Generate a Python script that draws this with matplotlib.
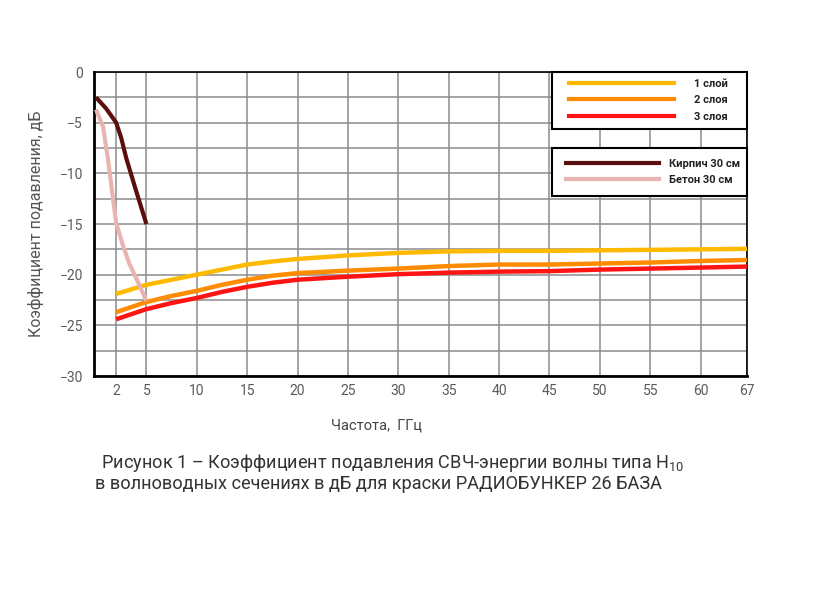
import numpy as np
import matplotlib.pyplot as plt
from matplotlib.lines import Line2D
from matplotlib.legend_handler import HandlerLine2D

plt.rcParams['font.family'] = ['Roboto', 'DejaVu Sans']
plt.rcParams['mathtext.fontset'] = 'custom'
plt.rcParams['mathtext.rm'] = 'Roboto'
plt.rcParams['mathtext.it'] = 'Roboto'

# частоты, ГГц
f_layers = [2, 5, 7.5, 10, 12.5, 15, 17.5, 20, 25, 30, 35, 40, 45, 50, 55, 60, 67]
layer1 = [-21.9, -21.0, -20.5, -20.0, -19.5, -19.0, -18.7, -18.45, -18.1, -17.85, -17.7, -17.65,
          -17.65, -17.6, -17.55, -17.5, -17.45]
layer2 = [-23.7, -22.7, -22.1, -21.6, -21.0, -20.5, -20.1, -19.85, -19.6, -19.4, -19.15, -19.0,
          -19.0, -18.9, -18.8, -18.65, -18.55]
layer3 = [-24.4, -23.4, -22.8, -22.3, -21.7, -21.2, -20.8, -20.5, -20.2, -19.95, -19.8, -19.7,
          -19.65, -19.5, -19.4, -19.3, -19.2]

f_brick = [0, 1, 2, 2.5, 3, 4, 5]
brick = [-2.5, -3.6, -5.0, -6.5, -8.5, -11.8, -15.0]

f_concrete = [0, 0.7, 1.2, 1.7, 2.0, 2.7, 3.3, 4.2, 5.0]
concrete = [-3.7, -5.4, -8.7, -12.6, -14.9, -17.2, -18.9, -20.8, -22.6]

xticks = [2, 5, 10, 15, 20, 25, 30, 35, 40, 45, 50, 55, 60, 67]

# на оригинале отрезок 60-67 сжат
def xpos(f):
    return np.interp(f, [0, 60, 67], [0, 60, 64.6])

fig = plt.figure(figsize=(8.2, 6), dpi=100)
ax = fig.add_axes([94/820, 1-376/600, (747-94)/820, (376-72)/600])

ax.plot(xpos(f_layers), layer1, color='#FFBA00', lw=3.2, solid_capstyle='butt', zorder=3)
ax.plot(xpos(f_layers), layer2, color='#FF8C00', lw=3.2, solid_capstyle='butt', zorder=3)
ax.plot(xpos(f_layers), layer3, color='#FF1414', lw=3.2, solid_capstyle='butt', zorder=3)
ax.plot(xpos(f_concrete), concrete, color='#E8B4B0', lw=3.0, solid_capstyle='butt', zorder=3)
ax.plot(xpos(f_brick), brick, color='#5A0E0E', lw=3.0, solid_capstyle='butt', zorder=4)

ax.set_xlim(-0.2, 64.6)
ax.set_ylim(-30, 0)
ax.set_xticks(xpos(xticks))
ax.set_xticklabels([str(t) for t in xticks])
ax.set_yticks(np.arange(-30, 0.1, 5))
ax.set_yticks(np.arange(-27.5, 0, 5), minor=True)
ax.grid(True, which='both', color='#8c8c8c', lw=1.1)
ax.set_axisbelow(True)
ax.tick_params(which='both', length=0, labelsize=10, labelcolor='#5a5a5a')
ax.tick_params(axis='y', pad=8)
ax.tick_params(axis='x', pad=6)
for s in ['left', 'bottom']:
    ax.spines[s].set_linewidth(2.0)
for s in ['top', 'right']:
    ax.spines[s].set_linewidth(1.2)

ax.set_ylabel('Коэффициент подавления, дБ', fontsize=11.5, color='#555555')
ax.yaxis.set_label_coords(-0.077, 0.5)
ax.set_xlabel('Частота,  ГГц', fontsize=10.5, color='#444444')
ax.xaxis.set_label_coords(0.432, -0.14)

x0 = (552-94)/653
h1 = [Line2D([], [], color=c, lw=3) for c in ['#FFBA00', '#FF8C00', '#FF1414']]
leg1 = ax.legend(h1, ['1 слой', '2 слоя', '3 слоя'], loc='upper right',
                 bbox_to_anchor=(x0, 0.5, 1 - x0, 0.5), mode='expand', borderaxespad=0,
                 fancybox=False, framealpha=1, edgecolor='black', handlelength=10.4,
                 handletextpad=1.8, labelspacing=0.6, borderpad=0.6,
                 handler_map={Line2D: HandlerLine2D(xpad=0.9)},
                 prop={'size': 8, 'weight': 'bold'})
leg1.get_frame().set_linewidth(1.5)
for t in leg1.get_texts():
    t.set_color('#222222')
ax.add_artist(leg1)

h2 = [Line2D([], [], color=c, lw=3) for c in ['#5A0E0E', '#E8B4B0']]
leg2 = ax.legend(h2, ['Кирпич 30 см', 'Бетон 30 см'], loc='upper right',
                 bbox_to_anchor=(x0, 0.3, 1 - x0, 1 - (148-72)/304 - 0.3), mode='expand',
                 borderaxespad=0, fancybox=False, framealpha=1, edgecolor='black',
                 handlelength=8.6, handletextpad=0.9, labelspacing=0.5,
                 borderpad=1.0, handler_map={Line2D: HandlerLine2D(xpad=0.3)},
                 prop={'size': 8, 'weight': 'bold'})
leg2.get_frame().set_linewidth(1.5)
for t in leg2.get_texts():
    t.set_color('#222222')

fig.text(97/820, 1-463/600, ' Рисунок 1 – Коэффициент подавления СВЧ-энергии волны типа H$_{\\mathrm{10}}$',
         fontsize=13.1, color='#333333', va='center')
fig.text(95/820, 1-484/600, 'в волноводных сечениях в дБ для краски РАДИОБУНКЕР 26 БАЗА',
         fontsize=13.1, color='#333333', va='center')

fig.savefig('out.png', dpi=100)
